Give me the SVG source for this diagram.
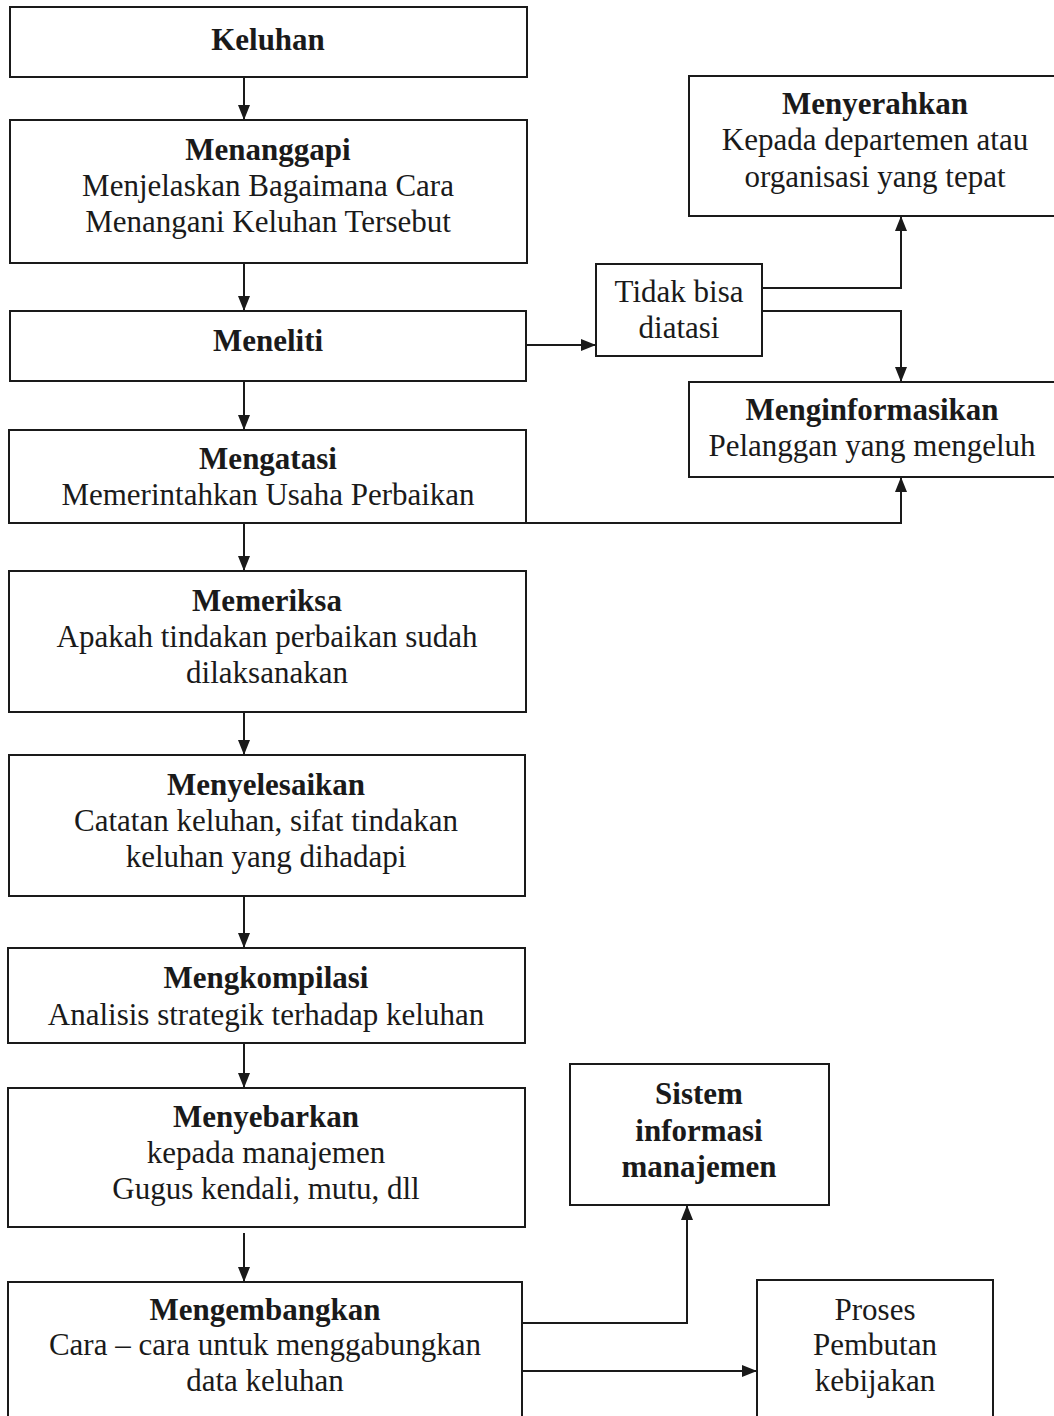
<svg xmlns="http://www.w3.org/2000/svg" width="1054" height="1416" viewBox="0 0 1054 1416">
<style>
.n{fill:#fff;stroke:#1a1a1a;stroke-width:2}
text{font-family:"Liberation Serif","Times New Roman",serif;font-size:31px;fill:#1a1a1a;text-anchor:middle}
.b{font-weight:bold}
.c{fill:none;stroke:#1a1a1a;stroke-width:2}
</style>
<defs>
<marker id="ah" viewBox="0 0 15 12" refX="15" refY="6" markerWidth="15" markerHeight="12" markerUnits="userSpaceOnUse" orient="auto">
<path d="M0,0 L15,6 L0,12 Z" fill="#1a1a1a"/>
</marker>
</defs>
<rect width="1054" height="1416" fill="#fff"/>
<g id="connectors">
<path class="c" d="M244,77 V120" marker-end="url(#ah)"/>
<path class="c" d="M244,263 V311" marker-end="url(#ah)"/>
<path class="c" d="M244,381 V430" marker-end="url(#ah)"/>
<path class="c" d="M244,523 V571" marker-end="url(#ah)"/>
<path class="c" d="M244,712 V755" marker-end="url(#ah)"/>
<path class="c" d="M244,896 V948" marker-end="url(#ah)"/>
<path class="c" d="M244,1043 V1088" marker-end="url(#ah)"/>
<path class="c" d="M244,1233 V1282" marker-end="url(#ah)"/>
<path class="c" d="M526,345 H596" marker-end="url(#ah)"/>
<path class="c" d="M762,288 H901 V216" marker-end="url(#ah)"/>
<path class="c" d="M762,311 H901 V382" marker-end="url(#ah)"/>
<path class="c" d="M526,523 H901 V477" marker-end="url(#ah)"/>
<path class="c" d="M522,1323 H687 V1205" marker-end="url(#ah)"/>
<path class="c" d="M522,1371 H757" marker-end="url(#ah)"/>
</g>
<g id="keluhan"><rect class="n" x="10" y="7" width="517" height="70"/><text class="b" x="268" y="50">Keluhan</text></g>
<g id="menanggapi"><rect class="n" x="10" y="120" width="517" height="143"/><text class="b" x="268" y="160">Menanggapi</text><text x="268" y="196">Menjelaskan Bagaimana Cara</text><text x="268" y="232">Menangani Keluhan Tersebut</text></g>
<g id="meneliti"><rect class="n" x="10" y="311" width="516" height="70"/><text class="b" x="268" y="351">Meneliti</text></g>
<g id="mengatasi"><rect class="n" x="9" y="430" width="517" height="93"/><text class="b" x="268" y="469">Mengatasi</text><text x="268" y="505">Memerintahkan Usaha Perbaikan</text></g>
<g id="memeriksa"><rect class="n" x="9" y="571" width="517" height="141"/><text class="b" x="267" y="611">Memeriksa</text><text x="267" y="647">Apakah tindakan perbaikan sudah</text><text x="267" y="683">dilaksanakan</text></g>
<g id="menyelesaikan"><rect class="n" x="9" y="755" width="516" height="141"/><text class="b" x="266" y="795">Menyelesaikan</text><text x="266" y="831">Catatan keluhan, sifat tindakan</text><text x="266" y="867">keluhan yang dihadapi</text></g>
<g id="mengkompilasi"><rect class="n" x="8" y="948" width="517" height="95"/><text class="b" x="266" y="988">Mengkompilasi</text><text x="266" y="1025">Analisis strategik terhadap keluhan</text></g>
<g id="menyebarkan"><rect class="n" x="8" y="1088" width="517" height="139"/><text class="b" x="266" y="1127">Menyebarkan</text><text x="266" y="1163">kepada manajemen</text><text x="266" y="1199">Gugus kendali, mutu, dll</text></g>
<g id="mengembangkan"><rect class="n" x="8" y="1282" width="514" height="150"/><text class="b" x="265" y="1320">Mengembangkan</text><text x="265" y="1355">Cara – cara untuk menggabungkan</text><text x="265" y="1391">data keluhan</text></g>
<g id="menyerahkan"><rect class="n" x="689" y="76" width="380" height="140"/><text class="b" x="875" y="114">Menyerahkan</text><text x="875" y="150">Kepada departemen atau</text><text x="875" y="187">organisasi yang tepat</text></g>
<g id="tidak-bisa"><rect class="n" x="596" y="264" width="166" height="92"/><text x="679" y="302">Tidak bisa</text><text x="679" y="338">diatasi</text></g>
<g id="menginformasikan"><rect class="n" x="689" y="382" width="380" height="95"/><text class="b" x="872" y="420">Menginformasikan</text><text x="872" y="456">Pelanggan yang mengeluh</text></g>
<g id="sistem"><rect class="n" x="570" y="1064" width="259" height="141"/><text class="b" x="699" y="1104">Sistem</text><text class="b" x="699" y="1141">informasi</text><text class="b" x="699" y="1177">manajemen</text></g>
<g id="proses"><rect class="n" x="757" y="1280" width="236" height="150"/><text x="875" y="1320">Proses</text><text x="875" y="1355">Pembutan</text><text x="875" y="1391">kebijakan</text></g>
</svg>
